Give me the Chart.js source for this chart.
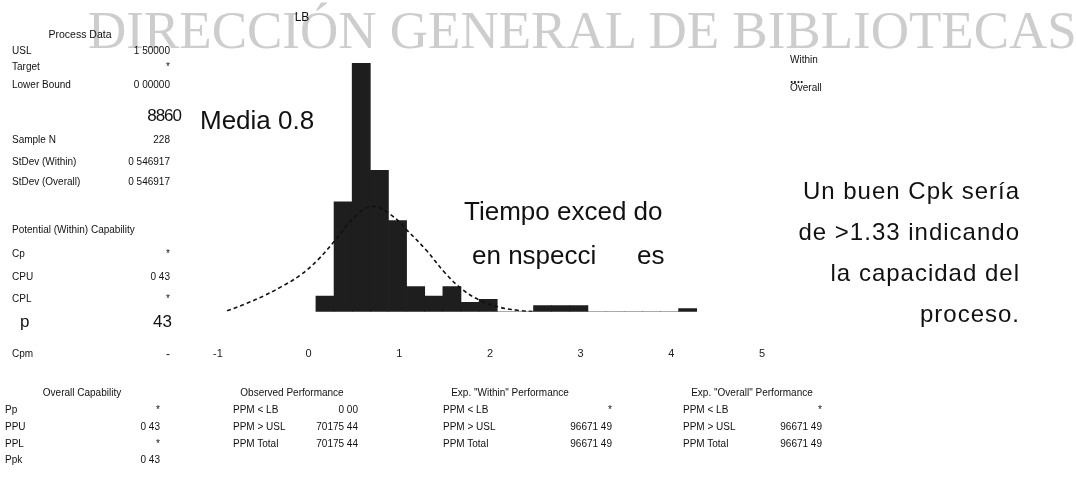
<!DOCTYPE html>
<html>
<head>
<meta charset="utf-8">
<script src="https://cdn.jsdelivr.net/npm/chart.js@4.4.1/dist/chart.umd.min.js"></script>
<style>
  body { margin: 0; background: #fff; }
  #page { position: relative; width: 1076px; height: 490px; overflow: hidden; font-family: "Liberation Sans", Arial, sans-serif; color: #111; }
  #myChart { position: absolute; left: 0; top: 0; }
  .txt { position: absolute; white-space: nowrap; line-height: 1; font-size: 10px; }
  #mark { position: absolute; left: 88px; top: 4px; font-family: "Liberation Serif", serif; font-size: 53px; color: #cdcdcd; white-space: nowrap; line-height: 1; }
</style>
</head>
<body>
<div id="page">
  <div id="mark">DIRECCIÓN GENERAL DE BIBLIOTECAS</div>
  <canvas id="myChart" width="1076" height="490"></canvas>
</div>
<script>

// histogram: bin centres (width 0.2) and counts
const binMid = [0.18, 0.38, 0.58, 0.78, 0.98, 1.18, 1.38, 1.58, 1.78, 1.98, 2.18, 2.38, 2.58, 2.78, 2.98, 3.18, 3.38, 3.58, 3.78, 3.98, 4.18];
const binCount = [5, 35, 79, 45, 29, 8, 5, 8, 3, 4, 0, 0, 2, 2, 2, 0, 0, 0, 0, 0, 1];

// dashed fitted curve
const curveX = [-0.9, -0.7, -0.5, -0.3, -0.1, 0.1, 0.3, 0.5, 0.7, 0.9, 1.1, 1.3, 1.5, 1.7, 1.9, 2.1, 2.3, 2.5];
const curveY = [0.3, 2.5, 5, 8, 11.5, 16.5, 23, 30, 33.5, 31, 25.5, 19.5, 12.5, 7, 3.5, 1.5, 0.5, 0];

// x axis range
const xMin = -1;
const xMax = 5;

// text tables
const processLabels = ['USL', 'Target', 'Lower Bound', 'Sample N', 'StDev (Within)', 'StDev (Overall)'];
const processValues = ['1 50000', '*', '0 00000', '228', '0 546917', '0 546917'];
const potentialLabels = ['Cp', 'CPU', 'CPL'];
const potentialValues = ['*', '0 43', '*'];
const overallLabels = ['Pp', 'PPU', 'PPL', 'Ppk'];
const overallValues = ['*', '0 43', '*', '0 43'];
const ppmLabels = ['PPM < LB', 'PPM > USL', 'PPM Total'];
const observedValues = ['0 00', '70175 44', '70175 44'];
const withinValues = ['*', '96671 49', '96671 49'];
const overallPpmValues = ['*', '96671 49', '96671 49'];
const noteLines = ['Un buen Cpk sería', 'de >1.33 indicando', 'la capacidad del', 'proceso.'];

const page = document.getElementById('page');

function put (text, x, y, align, size, extra) {
  const d = document.createElement('div');
  d.className = 'txt';
  d.textContent = text;
  d.style.fontSize = (size || 10) + 'px';
  d.style.left = x + 'px';
  d.style.top = y + 'px';
  let tx = '0';
  if (align === 'r') tx = '-100%';
  if (align === 'c') tx = '-50%';
  d.style.transform = 'translate(' + tx + ', -50%)';
  if (extra) Object.assign(d.style, extra);
  page.appendChild(d);
}

const ctx = document.getElementById('myChart');

const myChart = new Chart(ctx, {
  data: {
    datasets: [{
      type: 'line',
      data: curveX.map((x, i) => ({ x: x, y: curveY[i] })),
      borderColor: '#111',
      borderWidth: 1.6,
      borderDash: [4, 3],
      pointRadius: 0,
      tension: 0.4,
      fill: false,
      order: 1
    }, {
      type: 'bar',
      data: binMid.map((x, i) => ({ x: x, y: binCount[i] })),
      backgroundColor: '#1e1e1e',
      borderWidth: 0,
      barPercentage: 1,
      categoryPercentage: 1,
      order: 2
    }]
  },
  options: {
    responsive: false,
    animation: false,
    layout: {
      padding: { left: 218, right: 314, top: 54, bottom: 93 }
    },
    plugins: {
      legend: { display: false },
      tooltip: { enabled: false }
    },
    scales: {
      x: {
        type: 'linear',
        min: xMin,
        max: xMax,
        offset: false,
        grid: { display: false, drawTicks: false },
        border: { display: false },
        ticks: {
          stepSize: 1,
          padding: 36,
          color: '#222',
          font: { size: 11, family: 'Liberation Sans' }
        }
      },
      y: {
        display: false,
        min: 0,
        max: 82
      }
    }
  }
});

// process data block
put('Process Data', 80, 34, 'c', 10.5);
const processY = [51, 67, 85, 140, 162, 182];
processLabels.forEach((t, i) => {
  put(t, 12, processY[i], 'l');
  put(processValues[i], 170, processY[i], 'r');
});
put('8860', 181, 115, 'r', 17, { letterSpacing: '-1px' });
put('Media 0.8', 200, 120, 'l', 26);
put('LB', 302, 17, 'c', 12);

put('Potential (Within) Capability', 12, 230, 'l');
const potentialY = [254, 277, 299];
potentialLabels.forEach((t, i) => {
  put(t, 12, potentialY[i], 'l');
  put(potentialValues[i], 170, potentialY[i], 'r');
});
put('p', 20, 321, 'l', 17);
put('43', 172, 321, 'r', 17);
put('Cpm', 12, 354, 'l');
put('-', 170, 354, 'r', 12);

// bottom tables
const rowY = [410, 427, 444, 460];
put('Overall Capability', 82, 393, 'c');
overallLabels.forEach((t, i) => {
  put(t, 5, rowY[i], 'l');
  put(overallValues[i], 160, rowY[i], 'r');
});
put('Observed Performance', 292, 393, 'c');
put('Exp. "Within" Performance', 510, 393, 'c');
put('Exp. "Overall" Performance', 752, 393, 'c');
ppmLabels.forEach((t, i) => {
  put(t, 233, rowY[i], 'l');
  put(observedValues[i], 358, rowY[i], 'r');
  put(t, 443, rowY[i], 'l');
  put(withinValues[i], 612, rowY[i], 'r');
  put(t, 683, rowY[i], 'l');
  put(overallPpmValues[i], 822, rowY[i], 'r');
});

// legend
put('Within', 790, 60, 'l');
put('....', 790, 79, 'l', 12, { fontWeight: 'bold' });
put('Overall', 790, 88, 'l');

// annotations
put('Tiempo exced do', 464, 211, 'l', 26);
put('en  nspecci', 472, 255, 'l', 26);
put('es', 637, 255, 'l', 26);
noteLines.forEach((t, i) => {
  put(t, 1020, 191 + i * 41, 'r', 24, { letterSpacing: '1px' });
});
</script>
</body>
</html>
